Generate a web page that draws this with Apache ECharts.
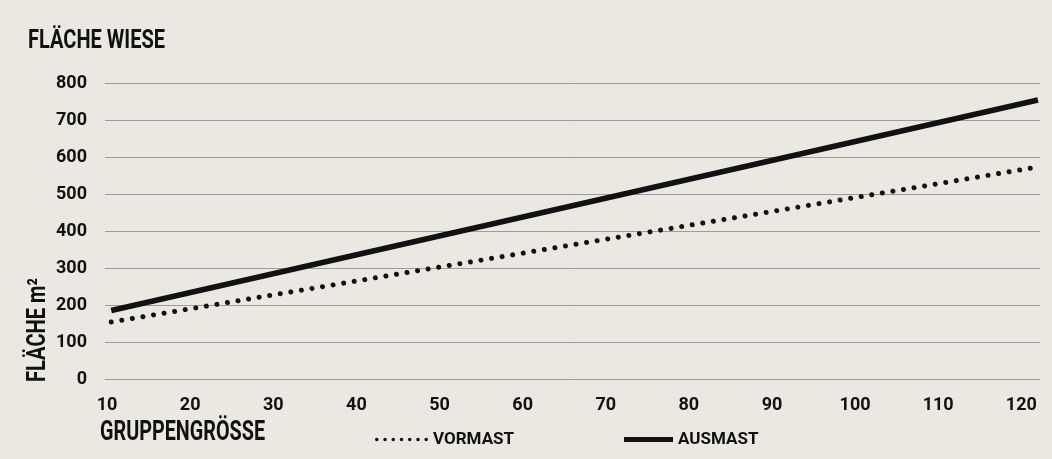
<!DOCTYPE html>
<html>
<head>
<meta charset="utf-8">
<script src="https://cdn.jsdelivr.net/npm/echarts@6/dist/echarts.min.js"></script>
<style>
  html, body { margin: 0; padding: 0; background: #ebe8e2; }
  #chart { width: 1052px; height: 459px; }
</style>
</head>
<body>
<div id="chart"></div>
<script>
// Group size (x) against required meadow area in m² (y)
const xTicks = [10, 20, 30, 40, 50, 60, 70, 80, 90, 100, 110, 120];
const yTicks = [0, 100, 200, 300, 400, 500, 600, 700, 800];
const groupSize = [10.5, 122];
const vormast = [154, 573];
const ausmast = [185, 754];

const FONT = 'Roboto, "Liberation Sans", "DejaVu Sans", sans-serif';
const INK = '#111111';

// Horizontal squeeze factor so a bold label fills a given width (condensed look)
const measureCtx = document.createElement('canvas').getContext('2d');
function squeeze(text, size, width) {
  measureCtx.font = 'bold ' + size + 'px ' + FONT;
  return Math.min(1, width / measureCtx.measureText(text).width);
}

// Row of round dots used as the legend key for the dotted series
function dotRow(n, r, gap) {
  let d = '';
  for (let i = 0; i < n; i++) {
    const cx = r + i * gap;
    d += 'M' + (cx - r) + ',' + r + 'a' + r + ',' + r + ' 0 1,0 ' + 2 * r + ',0' +
         'a' + r + ',' + r + ' 0 1,0 ' + (-2 * r) + ',0z';
  }
  return 'path://' + d;
}

function label(text, size, width, props) {
  return Object.assign({
    type: 'text',
    scaleX: squeeze(text, size, width),
    style: {
      text: text, fontFamily: FONT, fontWeight: 'bold', fontSize: size, fill: INK,
      textVerticalAlign: 'middle', textAlign: 'left'
    }
  }, props);
}

const chart = echarts.init(document.getElementById('chart'));
chart.setOption({
  backgroundColor: '#ebe8e2',
  animation: false,
  legend: [
    {
      left: 370,
      top: 426,
      itemWidth: 53,
      itemHeight: 4,
      selectedMode: false,
      textStyle: { fontFamily: FONT, fontWeight: 'bold', fontSize: 17, color: INK },
      data: [{ name: 'VORMAST', icon: dotRow(7, 1.8, 8.3) }]
    },
    {
      left: 619,
      top: 426,
      itemWidth: 49,
      itemHeight: 5,
      selectedMode: false,
      textStyle: { fontFamily: FONT, fontWeight: 'bold', fontSize: 17, color: INK },
      data: [{ name: 'AUSMAST', icon: 'rect' }]
    }
  ],
  graphic: [
    label('FLÄCHE WIESE', 26, 137, { x: 28, y: 41 }),
    label('GRUPPENGRÖSSE', 28, 165, { x: 100, y: 433 }),
    label('FLÄCHE m²', 25, 104, { x: 39, y: 382, rotation: Math.PI / 2 })
  ],
  grid: { left: 105, right: 12, top: 83, bottom: 80 },
  xAxis: {
    type: 'value',
    min: 9.75,
    max: 122.25,
    axisLine: { show: false },
    axisTick: { show: false },
    splitLine: { show: false },
    axisLabel: {
      customValues: xTicks,
      margin: 17,
      fontFamily: FONT, fontWeight: 'bold', fontSize: 18, color: INK
    }
  },
  yAxis: {
    type: 'value',
    min: 0,
    max: 800,
    interval: 100,
    axisLine: { show: false },
    axisTick: { show: false },
    splitLine: { lineStyle: { color: '#9e9c98', width: 1 } },
    axisLabel: {
      customValues: yTicks,
      margin: 18,
      fontFamily: FONT, fontWeight: 'bold', fontSize: 18, color: INK
    }
  },
  series: [
    {
      name: 'VORMAST',
      type: 'line',
      showSymbol: false,
      data: groupSize.map((x, i) => [x, vormast[i]]),
      lineStyle: { color: INK, width: 5, type: [0.01, 10.7], cap: 'round' },
      itemStyle: { color: INK }
    },
    {
      name: 'AUSMAST',
      type: 'line',
      showSymbol: false,
      data: groupSize.map((x, i) => [x, ausmast[i]]),
      lineStyle: { color: INK, width: 5.5 },
      itemStyle: { color: INK }
    }
  ]
});
</script>
</body>
</html>
